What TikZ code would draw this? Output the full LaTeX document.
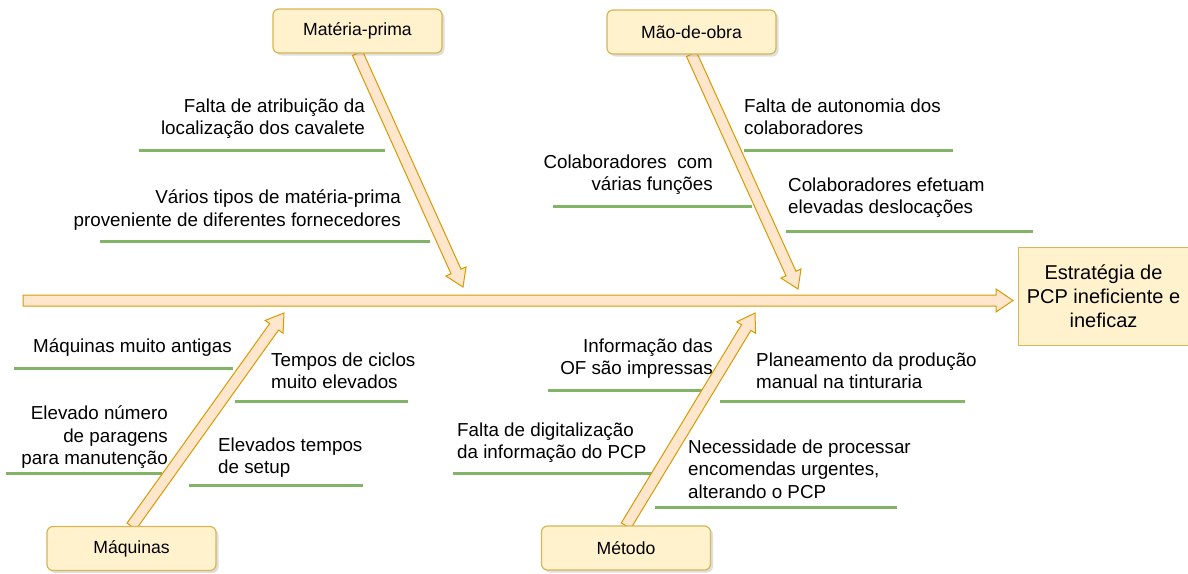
\documentclass[tikz,border=0pt]{standalone}
\usepackage{fontspec}
\setmainfont{Liberation Sans}
\usetikzlibrary{calc,shadows}
\definecolor{bonefill}{HTML}{FFE6CC}
\definecolor{bonedraw}{HTML}{D79B00}
\definecolor{boxfill}{HTML}{FFF2CC}
\definecolor{boxdraw}{HTML}{D6B656}
\definecolor{grn}{HTML}{82B366}
% #1 from, #2 to, #3 body half width, #4 head half width, #5 head length
\newcommand\bonearrow[5]{%
  \coordinate (fa-h) at ($(#2)!#5!(#1)$);
  \draw[bone] ($(#1)!#3!90:(#2)$) -- ($(fa-h)!#3!90:(#2)$) -- ($(fa-h)!#4!90:(#2)$)
    -- (#2) -- ($(fa-h)!#4!-90:(#2)$) -- ($(fa-h)!#3!-90:(#2)$) -- ($(#1)!#3!-90:(#2)$) -- cycle;
}
\begin{document}
\begin{tikzpicture}[x=1pt,y=-1pt,
  bone/.style={draw=bonedraw, fill=bonefill, line width=1pt, line join=miter},
  boxshape/.style={minimum width=169pt, minimum height=44pt, inner sep=0pt},
  catbox/.style={boxshape, draw=boxdraw, fill=boxfill, line width=1.2pt, rounded corners=6pt,
    font=\fontsize{17.6}{21}\selectfont,
    drop shadow={opacity=0.25, shadow xshift=2.5pt, shadow yshift=-2.5pt}},
  effbox/.style={draw=boxdraw, fill=boxfill, line width=1pt, inner sep=0pt},
  lbl/.style={font=\fontsize{18.8}{22.7}\selectfont, inner sep=0pt,
    execute at begin node=\strut, execute at end node=\strut, yshift=14.6pt},
  gline/.style={draw=grn, line width=3pt}]
\useasboundingbox (0,0) rectangle (1188,573);

% green underlines
\coordinate (g1a) at (139,150); \coordinate (g1b) at (385,150);
\coordinate (g2a) at (100,241); \coordinate (g2b) at (430,241);
\coordinate (g3a) at (744,150); \coordinate (g3b) at (953,150);
\coordinate (g4a) at (553,206); \coordinate (g4b) at (752,206);
\coordinate (g5a) at (786,231); \coordinate (g5b) at (1033,231);
\coordinate (g6a) at (14,368);  \coordinate (g6b) at (233,368);
\coordinate (g7a) at (235,401); \coordinate (g7b) at (408,401);
\coordinate (g8a) at (6,473);   \coordinate (g8b) at (162,473);
\coordinate (g9a) at (189,485); \coordinate (g9b) at (363,485);
\coordinate (g10a) at (548,390); \coordinate (g10b) at (704,390);
\coordinate (g11a) at (720,401); \coordinate (g11b) at (965,401);
\coordinate (g12a) at (453,473); \coordinate (g12b) at (652,473);
\coordinate (g13a) at (655,507); \coordinate (g13b) at (897,507);
\foreach \i in {1,...,13} \draw[gline] (g\i a) -- (g\i b);

% box anchors (invisible placeholders)
\node[boxshape] (mp) at (357.5,31) {};
\node[boxshape] (mo) at (691.5,32) {};
\node[boxshape] (maq) at (131.5,548.5) {};
\node[boxshape] (met) at (626,548) {};

% spine
\coordinate (sp0) at (23,300.5);
\coordinate (sp1) at (1013,300.5);
\bonearrow{sp0}{sp1}{5.5pt}{11.5pt}{17pt}

% bones
\coordinate (tmp) at (463,287);
\coordinate (tmo) at (798,289);
\coordinate (tmaq) at (284,313);
\coordinate (tmet) at (755,313);
\bonearrow{mp.south}{tmp}{5.5pt}{11pt}{17pt}
\bonearrow{mo.south}{tmo}{5.5pt}{11pt}{17pt}
\bonearrow{maq.north}{tmaq}{5.5pt}{11pt}{17pt}
\bonearrow{met.north}{tmet}{5.5pt}{11pt}{17pt}

% category boxes
\node[catbox] (mpv) at (mp) {Matéria-prima};
\node[catbox] (mov) at (mo) {Mão-de-obra};
\node[catbox] (maqv) at (maq) {Máquinas};
\node[catbox] (metv) at (met) {Método};

% effect box
\node[effbox, minimum width=170pt, minimum height=98pt, anchor=north west,
  align=center, font=\fontsize{20}{24}\selectfont, xshift=-3pt] (eff) at (1021,247)
  {Estratégia de\\PCP ineficiente e\\ineficaz};

% labels
\node[lbl, align=right, anchor=north east] (t1) at (365,113) {Falta de atribuição da\\localização dos cavalete};
\node[lbl, align=right, anchor=north east] (t2) at (401,204) {Vários tipos de matéria-prima\\proveniente de diferentes fornecedores};
\node[lbl, align=left, anchor=north west] (t3) at (744,113) {Falta de autonomia dos\\colaboradores};
\node[lbl, align=right, anchor=north east] (t4) at (713,169) {Colaboradores\ \ com\\várias funções};
\node[lbl, align=left, anchor=north west] (t5) at (788,192) {Colaboradores efetuam\\elevadas deslocações};
\node[lbl, anchor=north west] (t6) at (33,351) {Máquinas muito antigas};
\node[lbl, align=left, anchor=north west] (t7) at (271,367) {Tempos de ciclos\\muito elevados};
\node[lbl, align=right, anchor=north east] (t8) at (168,420) {Elevado número\\de paragens\\para manutenção};
\node[lbl, align=left, anchor=north west] (t9) at (218,452) {Elevados tempos\\de setup};
\node[lbl, align=right, anchor=north east] (t10) at (713,353) {Informação das\\OF são impressas};
\node[lbl, align=left, anchor=north west] (t11) at (756,367) {Planeamento da produção\\manual na tinturaria};
\node[lbl, align=left, anchor=north west] (t12) at (457,437) {Falta de digitalização\\da informação do PCP};
\node[lbl, align=left, anchor=north west] (t13) at (688,454) {Necessidade de processar\\encomendas urgentes,\\alterando o PCP};
\end{tikzpicture}
\end{document}
